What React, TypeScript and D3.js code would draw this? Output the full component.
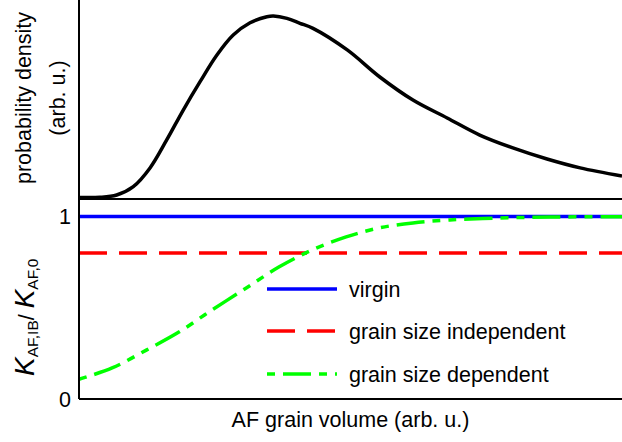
import React from "react";
import * as d3 from "d3";

// AF grain volume (arb. u.), 0..100 across the axis
const densityX = [0, 3.87, 6.94, 10.0, 13.08, 16.15, 19.2, 22.3, 25.4, 28.4, 31.5, 34.6, 35.8, 38.3, 40.7, 43.1, 49.4, 55.4, 61.5, 67.8, 73.8, 79.9, 86.2, 92.3, 100];
const densityV = [0, 0.001, 0.014, 0.06, 0.163, 0.317, 0.482, 0.638, 0.785, 0.895, 0.963, 0.996, 1.0, 0.987, 0.96, 0.932, 0.813, 0.664, 0.537, 0.438, 0.344, 0.273, 0.212, 0.163, 0.118];

const dependentX = [0, 6.1, 12.4, 18.4, 24.5, 30.8, 36.8, 42.9, 49.2, 55.2, 61.5, 68.3, 77.5, 86.7, 100];
const dependentV = [0.108, 0.17, 0.268, 0.367, 0.488, 0.608, 0.723, 0.816, 0.888, 0.937, 0.965, 0.981, 0.992, 0.997, 0.999];

const virginV = 1;
const independentV = 0.8;

const yTicks = [0, 1];
const legendLabels = ["virgin", "grain size independent", "grain size dependent"];

const W = 622;
const H = 442;
const FONT = "'Liberation Sans', Arial, Helvetica, sans-serif";
const FS = 21.5;

export default function App() {
  const x = d3.scaleLinear().domain([0, 100]).range([79, 622]);
  const yTop = d3.scaleLinear().domain([0, 1]).range([197.5, 16]);
  const yBot = d3.scaleLinear().domain([0, 1.1]).range([399, 198.25]);

  const densityLine = d3
    .line<number>()
    .x((_, i) => x(densityX[i]))
    .y((d) => yTop(d))
    .curve(d3.curveCatmullRom.alpha(0.5))(densityV) as string;

  const depLine = d3
    .line<number>()
    .x((_, i) => x(dependentX[i]))
    .y((d) => yBot(d))
    .curve(d3.curveCatmullRom.alpha(0.5))(dependentV) as string;

  const [x0, x1] = x.range();
  const greenDash = "28,8,8,8,8,8";

  const legendY = [289, 331, 374];
  const legendStyles = [
    { stroke: "#0000ff", dash: undefined as string | undefined, offset: 0 },
    { stroke: "#ff0000", dash: "28,12", offset: 0 },
    { stroke: "#00ff00", dash: greenDash, offset: 52 },
  ];

  return (
    <svg
      width={W}
      height={H}
      style={{ position: "absolute", left: 0, top: 0, background: "#fff" }}
      fontFamily={FONT}
    >
      {/* top panel density curve */}
      <path d={densityLine} fill="none" stroke="#000" strokeWidth={3.5} />

      {/* bottom panel lines */}
      <line x1={x0} x2={x1} y1={yBot(virginV)} y2={yBot(virginV)} stroke="#0000ff" strokeWidth={3.5} />
      <line
        x1={x0}
        x2={x1}
        y1={yBot(independentV)}
        y2={yBot(independentV)}
        stroke="#ff0000"
        strokeWidth={3.5}
        strokeDasharray="28,12"
      />
      <path d={depLine} fill="none" stroke="#00ff00" strokeWidth={3.5} strokeDasharray={greenDash} strokeDashoffset={52} />

      {/* axes */}
      <line x1={x0} x2={x0} y1={0} y2={399} stroke="#000" strokeWidth={2} />
      <line x1={x0} x2={x1} y1={199} y2={199} stroke="#000" strokeWidth={2} />
      <line x1={x0} x2={x1} y1={399} y2={399} stroke="#000" strokeWidth={2} />

      {/* tick labels */}
      {yTicks.map((t) => (
        <text key={t} x={71} y={yBot(t) + 7.5} fontSize={FS} textAnchor="end" fill="#000">
          {t}
        </text>
      ))}

      {/* legend */}
      {legendLabels.map((lab, i) => (
        <g key={lab}>
          <line
            x1={267}
            x2={337}
            y1={legendY[i]}
            y2={legendY[i]}
            stroke={legendStyles[i].stroke}
            strokeWidth={3.5}
            strokeDasharray={legendStyles[i].dash}
            strokeDashoffset={legendStyles[i].offset}
          />
          <text x={349} y={legendY[i] + 7.5} fontSize={FS} fill="#000">
            {lab}
          </text>
        </g>
      ))}

      {/* x label */}
      <text x={350.5} y={426.5} fontSize={FS} textAnchor="middle" fill="#000">
        AF grain volume (arb. u.)
      </text>

      {/* top y label */}
      <text transform="translate(31,98) rotate(-90)" fontSize={FS} textAnchor="middle" fill="#000">
        probability density
      </text>
      <text transform="translate(65,98) rotate(-90)" fontSize={FS} textAnchor="middle" fill="#000">
        (arb. u.)
      </text>

      {/* bottom y label */}
      <text transform="translate(34,376) rotate(-90)" fill="#000" fontSize={FS}>
        <tspan fontStyle="italic" fontSize={28}>K</tspan>
        <tspan fontSize={15.5} dy={4}>AF,IB</tspan>
        <tspan fontSize={FS} dy={-4}>/ </tspan>
        <tspan fontStyle="italic" fontSize={28}>K</tspan>
        <tspan fontSize={15.5} dy={4}>AF,0</tspan>
      </text>
    </svg>
  );
}
